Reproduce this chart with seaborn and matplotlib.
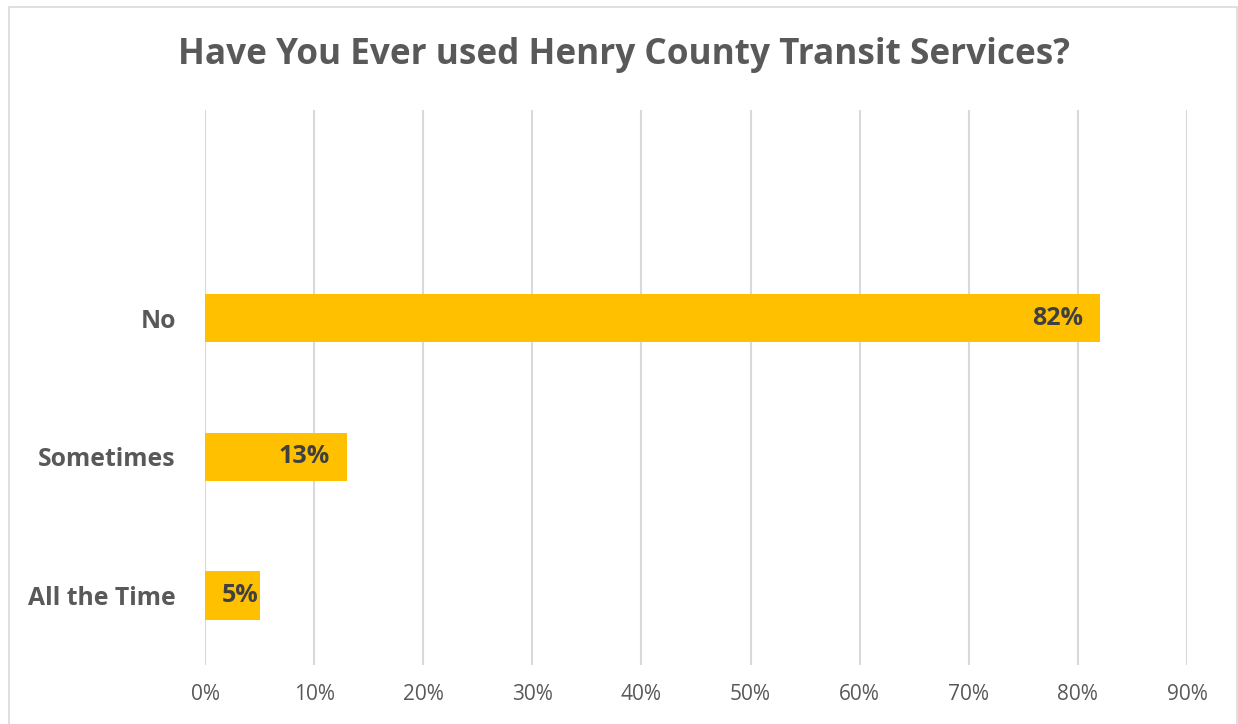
import matplotlib
matplotlib.use("Agg")
import matplotlib.pyplot as plt
from matplotlib.patches import Rectangle
from matplotlib.ticker import PercentFormatter, MultipleLocator
import seaborn as sns
import pandas as pd

# ─── Data ────────────────────────────────────────────────────────────────────
answers = ["No", "Sometimes", "All the Time"]
shares  = [82, 13, 5]

GOLD  = "#FFC000"
GRAY  = "#595959"
DARK  = "#404040"
GRID  = "#D9D9D9"

sns.set_theme(style="white")
plt.rcParams["font.family"] = ["Open Sans", "DejaVu Sans"]

df = pd.DataFrame({"answer": answers, "share": shares})

fig = plt.figure(figsize=(12.38, 7.24), dpi=100)
ax = fig.add_axes([205 / 1238, 1 - 665 / 724, (1187 - 205) / 1238, (665 - 110) / 724])

sns.barplot(data=df, y="answer", x="share", order=answers, color=GOLD,
            saturation=1, width=0.35, linewidth=0, ax=ax, zorder=3)

# empty slot above "No" like the original
ax.set_ylim(2.5, -1.5)
ax.set_xlim(0, 90)
ax.xaxis.set_major_locator(MultipleLocator(10))
ax.xaxis.set_major_formatter(PercentFormatter(decimals=0))
ax.grid(axis="x", color=GRID, linewidth=1.5, zorder=0)
ax.grid(axis="y", visible=False)
for s in ax.spines.values():
    s.set_visible(False)

ax.set_xlabel("")
ax.set_ylabel("")
ax.tick_params(axis="x", colors=GRAY, labelsize=15, length=0, pad=14)
ax.tick_params(axis="y", length=0, pad=21)
for lbl in ax.get_yticklabels():
    lbl.set_fontsize(17.8)
    lbl.set_fontweight("bold")
    lbl.set_color(GRAY)

# inside-end labels; small bars get a tighter margin so the text stays inside
for i, v in enumerate(shares):
    pad = -12 if v >= 10 else -1
    ax.annotate(f"{v}%", xy=(v, i), xytext=(pad, 0), textcoords="offset points",
                ha="right", va="center", fontsize=18, fontweight="bold",
                color=DARK, zorder=4)

fig.text(0.504, 1 - 55 / 724, "Have You Ever used Henry County Transit Services?",
         ha="center", va="center", fontsize=25.3, fontweight="bold", color=GRAY)

# chart border
fig.patches.append(Rectangle((9 / 1238, -0.01), (1237 - 9) / 1238, 1.01 - 7 / 724,
                             transform=fig.transFigure, fill=False,
                             edgecolor=GRID, linewidth=1.2))

fig.savefig("out.png", dpi=100)
